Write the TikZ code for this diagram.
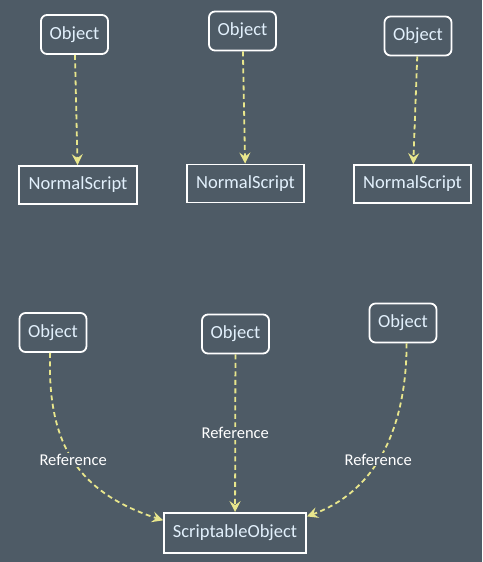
\documentclass[tikz,border=0pt]{standalone}
\usepackage{fontspec}
\setmainfont{Carlito}
\usetikzlibrary{arrows.meta}
\definecolor{slatebg}{RGB}{78,91,102}
\definecolor{reflink}{RGB}{232,230,140}
\definecolor{boxtext}{RGB}{226,240,252}
\tikzset{
  objbox/.style={draw=white,line width=1.8pt,rounded corners=6pt,text=boxtext,
    minimum width=67pt,minimum height=39pt,inner sep=0pt,font=\fontsize{18.5}{20}\selectfont},
  scriptbox/.style={draw=white,line width=1.8pt,text=boxtext,minimum height=38pt,
    inner sep=0pt,font=\fontsize{18.5}{20}\selectfont},
  reflink/.style={draw=reflink,line width=1.8pt,dash pattern=on 5pt off 3.5pt,
    -{Stealth[length=11pt,width=11pt,inset=4pt]}},
  reflabel/.style={fill=slatebg,text=white,inner sep=1pt,font=\fontsize{16.5}{18}\selectfont}
}
\begin{document}
\begin{tikzpicture}[x=1pt,y=-1pt]
  \fill[slatebg] (0,0) rectangle (482,562);
  \useasboundingbox (0,0) rectangle (482,562);
  % plain script per object
  \node[objbox] (obja) at (74.5,34.5) {Object};
  \node[objbox] (objb) at (242.5,31) {Object};
  \node[objbox] (objc) at (418,36) {Object};
  \node[scriptbox,minimum width=118pt] (nsa) at (78,185) {NormalScript};
  \node[scriptbox,minimum width=117pt] (nsb) at (245.5,183.5) {NormalScript};
  \node[scriptbox,minimum width=117pt] (nsc) at (412.5,184) {NormalScript};
  \draw[reflink] (obja) -- (nsa);
  \draw[reflink] (objb) -- (nsb);
  \draw[reflink] (objc) -- (nsc);
  % shared scriptable object
  \node[objbox] (objd) at (53,332.5) {Object};
  \node[objbox] (obje) at (235.5,334) {Object};
  \node[objbox] (objf) at (403,323) {Object};
  \node[scriptbox,minimum width=142pt,minimum height=40pt] (so) at (235,533) {ScriptableObject};
  \draw[reflink] (objd.-98) to[out=-92,in=162,looseness=1.15]
    node[reflabel,pos=0.5] {Reference} (so.170);
  \draw[reflink] (obje) -- node[reflabel,pos=0.5] {Reference} (so);
  \draw[reflink] (objf.-80) to[out=-90,in=20]
    node[reflabel,pos=0.56] {Reference} (so.13);
\end{tikzpicture}
\end{document}
